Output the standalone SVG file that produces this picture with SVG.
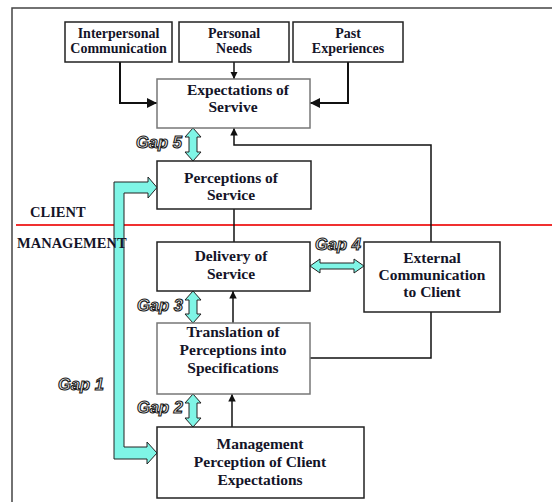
<svg xmlns="http://www.w3.org/2000/svg" width="552" height="502" viewBox="0 0 552 502">
<style>
.box{fill:#fff;stroke:#222;stroke-width:1.5}
.lbox{fill:#fff;stroke:#777;stroke-width:1.5}
.t{font-family:"Liberation Serif",serif;font-weight:bold;font-size:15.5px;fill:#141428;text-anchor:middle}
.ts{font-family:"Liberation Serif",serif;font-weight:bold;font-size:14px;fill:#141428;text-anchor:middle}
.side{font-family:"Liberation Serif",serif;font-weight:bold;font-size:14.5px;fill:#141428}
.gap{font-family:"Liberation Sans",sans-serif;font-weight:bold;font-style:italic;font-size:16.5px;fill:#f2f2f2;stroke:#1a1a1a;stroke-width:1.1}
.ln{fill:none;stroke:#111;stroke-width:1.5}
.lnb{fill:none;stroke:#111;stroke-width:2}
.cy{fill:#7ff5e6;stroke:#222;stroke-width:1}
</style>
<defs>
<marker id="ah" viewBox="0 0 10 10" refX="10" refY="5" markerWidth="5" markerHeight="5" orient="auto">
<path d="M0,0 L10,5 L0,10 z" fill="#111"/>
</marker>
</defs>
<rect width="552" height="502" fill="#fff"/>
<path d="M12,502 V8 H552" fill="none" stroke="#444" stroke-width="1.5"/>
<line x1="16" y1="225" x2="552" y2="225" stroke="#f03030" stroke-width="2"/>

<g id="connectors">
<path class="lnb" d="M120,62 V103 H157" marker-end="url(#ah)"/>
<path class="ln" d="M234,62 V79" marker-end="url(#ah)"/>
<path class="lnb" d="M348,62 V103 H310" marker-end="url(#ah)"/>
<path class="ln" d="M431,242 V145 H234 V128" marker-end="url(#ah)"/>
<path class="ln" d="M234,209 V242"/>
<path class="ln" d="M233,323 V291" marker-end="url(#ah)"/>
<path class="ln" d="M232,427 V394" marker-end="url(#ah)"/>
<path class="ln" d="M310,358 H431 V312"/>
</g>

<g id="gap-arrows">
<polygon class="cy" points="193,128 201,137 197,137 197,152 201,152 193,161 185,152 189,152 189,137 185,137"/>
<polygon class="cy" points="193,291 201,300 197,300 197,314 201,314 193,323 185,314 189,314 189,300 185,300"/>
<polygon class="cy" points="193,394 201,403 197,403 197,418 201,418 193,427 185,418 189,418 189,403 185,403"/>
<polygon class="cy" points="310,266 320,259 320,263 354,263 354,259 364,266 354,273 354,269 320,269 320,273"/>
<polygon class="cy" points="114,459 114,182 148,182 148,177 157,187.5 148,198 148,193 124,193 124,447 147,447 147,442 157,453 147,464 147,459"/>
</g>

<text class="side" x="30" y="217">CLIENT</text>
<text class="side" x="17" y="248">MANAGEMENT</text>

<g id="gap-labels">
<text class="gap" x="136" y="148">Gap 5</text>
<text class="gap" x="315" y="250">Gap 4</text>
<text class="gap" x="137" y="311">Gap 3</text>
<text class="gap" x="137" y="413">Gap 2</text>
<text class="gap" x="58" y="390">Gap 1</text>
</g>

<g id="interpersonal">
<rect class="box" x="65" y="22" width="107" height="40"/>
<text class="ts" x="118.5" y="38">Interpersonal</text>
<text class="ts" x="118.5" y="53">Communication</text>
</g>
<g id="personal-needs">
<rect class="box" x="179" y="22" width="110" height="40"/>
<text class="ts" x="234" y="38">Personal</text>
<text class="ts" x="234" y="53">Needs</text>
</g>
<g id="past-experiences">
<rect class="box" x="293" y="22" width="110" height="40"/>
<text class="ts" x="348" y="38">Past</text>
<text class="ts" x="348" y="53">Experiences</text>
</g>
<g id="expectations">
<rect class="lbox" x="157" y="79" width="153" height="49"/>
<text class="t" x="238" y="95">Expectations of</text>
<text class="t" x="233" y="112">Servive</text>
</g>
<g id="perceptions">
<rect class="box" x="157" y="161" width="154" height="48"/>
<text class="t" x="231" y="183">Perceptions of</text>
<text class="t" x="231" y="200">Service</text>
</g>
<g id="delivery">
<rect class="box" x="157" y="242" width="153" height="49"/>
<text class="t" x="231" y="261">Delivery of</text>
<text class="t" x="231" y="279">Service</text>
</g>
<g id="external">
<rect class="box" x="364" y="242" width="136" height="70"/>
<text class="t" x="432" y="263">External</text>
<text class="t" x="432" y="280">Communication</text>
<text class="t" x="432" y="297">to Client</text>
</g>
<g id="translation">
<rect class="lbox" x="157" y="323" width="153" height="71"/>
<text class="t" x="233" y="337">Translation of</text>
<text class="t" x="233" y="355">Perceptions into</text>
<text class="t" x="233" y="373">Specifications</text>
</g>
<g id="management">
<rect class="box" x="157" y="427" width="207" height="71"/>
<text class="t" x="260" y="449">Management</text>
<text class="t" x="260" y="467">Perception of Client</text>
<text class="t" x="260" y="485">Expectations</text>
</g>
</svg>
